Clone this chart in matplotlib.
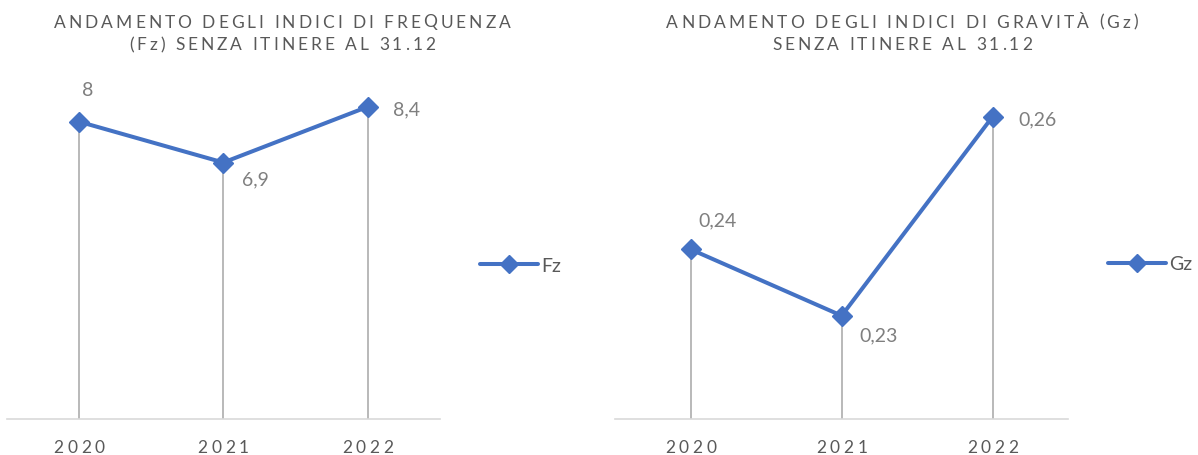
import numpy as np
import matplotlib
matplotlib.use("Agg")
import matplotlib.pyplot as plt

plt.rcParams["font.family"] = ["Lato", "DejaVu Sans"]

# dati
years = ["2020", "2021", "2022"]
fz = [8.0, 6.9, 8.4]
gz = [0.24, 0.23, 0.26]
fz_labels = ["8", "6,9", "8,4"]
gz_labels = ["0,24", "0,23", "0,26"]
title_fz = ["ANDAMENTO DEGLI INDICI DI FREQUENZA", "(Fz) SENZA ITINERE AL 31.12"]
title_gz = ["ANDAMENTO DEGLI INDICI DI GRAVITÀ (Gz)", "SENZA ITINERE AL 31.12"]

W, H = 1198, 456
BLUE = "#4472C4"
DARK = "#595959"
LABEL = "#7F7F7F"

fig = plt.figure(figsize=(W / 100, H / 100), dpi=100)
renderer = fig.canvas.get_renderer()


def spaced_text(s, xc, yb, size, tracking, color):
    # testo con spaziatura tra le lettere, centrato su xc (px), baseline yb (px)
    ws = []
    for ch in s:
        if ch == " ":
            ws.append(size * 100 / 72 * 0.25)
        else:
            t = fig.text(0, 0, ch, fontsize=size)
            ws.append(t.get_window_extent(renderer).width)
            t.remove()
    total = sum(ws) + tracking * (len(s) - 1)
    x = xc - total / 2
    for ch, w in zip(s, ws):
        if ch != " ":
            fig.text(x / W, 1 - yb / H, ch, fontsize=size, color=color,
                     ha="left", va="baseline")
        x += w + tracking


def panel(rect_px, values, labels, ylim, offsets, name, legend_xy, title, title_xc):
    x0, x1, ytop, ybot = rect_px
    ax = fig.add_axes([x0 / W, 1 - ybot / H, (x1 - x0) / W, (ybot - ytop) / H])
    x = np.arange(len(years))
    ax.set_xlim(-0.5, len(years) - 0.5)
    ax.set_ylim(*ylim)
    ax.vlines(x, ylim[0], values, color="#A6A6A6", lw=1.1, zorder=1)
    ax.plot(x, values, color=BLUE, lw=2.9, marker="D", ms=10.5,
            solid_capstyle="round", label=name, zorder=3)
    for xi, v, lab, (dx, dy) in zip(x, values, labels, offsets):
        ax.annotate(lab, (xi, v), xytext=(dx, -dy), textcoords="offset pixels",
                    ha="center", va="center", fontsize=14, color=LABEL)
    for s in ["top", "right", "left"]:
        ax.spines[s].set_visible(False)
    ax.spines["bottom"].set_color("#D9D9D9")
    ax.spines["bottom"].set_linewidth(1.2)
    ax.set_xticks([])
    ax.set_yticks([])
    ax.patch.set_alpha(0)

    # etichette anni
    for xi, yr in zip(x, years):
        xp = ax.transData.transform((xi, ylim[0]))[0]
        spaced_text(yr, xp, 453, 12.5, 3.8, DARK)

    spaced_text(title[0], title_xc, 27.5, 12.5, 3.0, DARK)
    spaced_text(title[1], title_xc, 50, 12.5, 3.0, DARK)

    ax.legend(loc="center left", bbox_to_anchor=(legend_xy[0] / W, 1 - legend_xy[1] / H),
              bbox_transform=fig.transFigure, frameon=False, borderpad=0,
              borderaxespad=0, handlelength=3.0, handletextpad=0.15,
              fontsize=14, labelcolor=DARK, markerscale=0.85)
    return ax


panel((6.8, 439.8, 48.4, 419.7), fz, fz_labels, (0, 10),
      [(9, -32), (32, 16.5), (38.6, 2)], "Fz", (480, 266.7), title_fz, 282)
panel((615.3, 1068, 51.4, 419.7), gz, gz_labels, (0.21447, 0.27),
      [(27, -29), (37, 19), (45, 2)], "Gz", (1108, 265), title_gz, 902)

fig.savefig("out.png", dpi=100)
